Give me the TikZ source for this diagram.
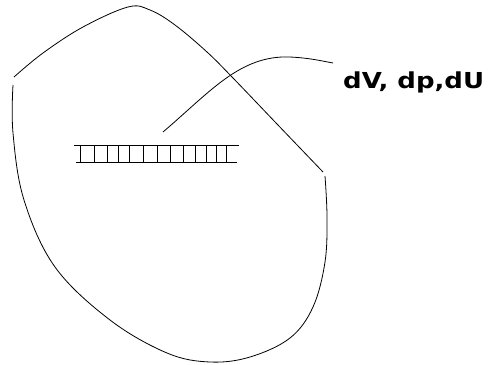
\documentclass[tikz,border=0pt]{standalone}
\usepackage{fontspec}
\setmainfont{DejaVu Sans}
\begin{document}
\begin{tikzpicture}[x=1pt,y=-1pt,
  outline/.style={line width=0.8pt,black},
  rung/.style={line width=0.8pt,black},
  lbl/.style={font=\bfseries\fontsize{22}{24}\selectfont,inner sep=0pt,anchor=base west}]
\useasboundingbox (0,0) rectangle (489,364);
% boundary of the control volume
\draw[outline] plot[smooth,tension=0.6] coordinates {(14,77) (43,53) (83,27) (128,7) (150,10) (175,25) (207,52) (233,78) (277,124) (323,172)};
\draw[outline] plot[smooth,tension=0.6] coordinates {(325,176) (327,217) (325,262) (313,307) (290,338) (250,357) (210,362) (167,353) (110,320) (55,267) (24,200) (13,133) (13,85)};
% element
\coordinate (tl) at (74,145);
\coordinate (tr) at (239,145);
\coordinate (bl) at (76,162);
\coordinate (br) at (237,162);
\draw[rung] (tl) -- (tr);
\draw[rung] (bl) -- (br);
\foreach \xx in {80,94,107,118,129,143,157,170,183,195,206,216,226}
  \draw[rung] (\xx,145) -- (\xx,162);
% label
\node[lbl] (lab) at (343,88) {\scalebox{1.18}[1]{dV, dp,dU}};
\coordinate (ls) at (163,132);
\coordinate (le) at (333,63);
\draw[outline] (ls) .. controls (210,92) and (240,55) .. (290,57) .. controls (310,58) and (322,61) .. (le);
\end{tikzpicture}
\end{document}
